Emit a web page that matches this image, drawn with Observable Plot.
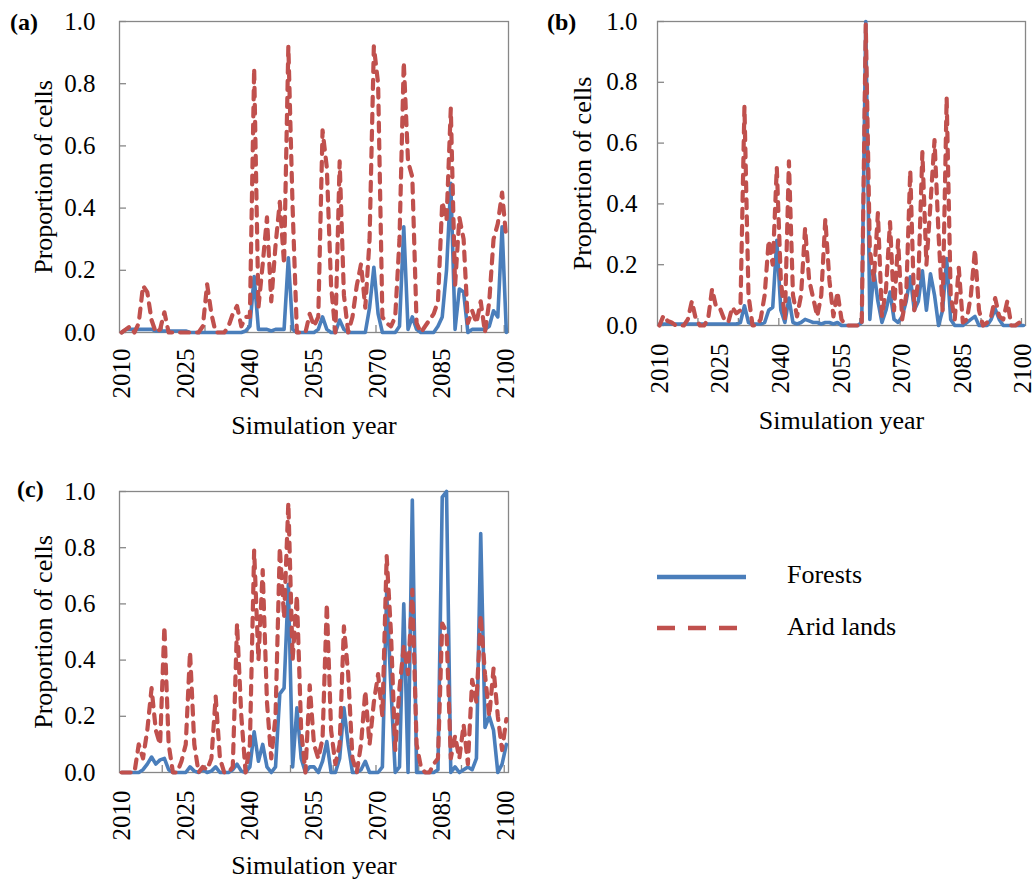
<!DOCTYPE html>
<html>
<head>
<meta charset="utf-8">
<script src="https://cdn.jsdelivr.net/npm/d3@7"></script>
<script src="https://cdn.jsdelivr.net/npm/@observablehq/plot@0.6"></script>
<style>
  html, body { margin: 0; padding: 0; background: #fff; }
  #root { position: relative; width: 1033px; height: 879px; overflow: hidden; background: #fff; }
  #root svg { position: absolute; }
</style>
</head>
<body>
<div id="root"></div>
<script>
// ---------- data ----------
const firstYear = 2010;
const lastYear = 2100;
const years = d3.range(firstYear, lastYear + 1);
const xTickLabels = [2010, 2025, 2040, 2055, 2070, 2085, 2100];
const xMinorTicks = [2019.5, 2029.5, 2039.5, 2049.5, 2059.5, 2069.5, 2079.5, 2089.5, 2099.5];
const yTicks = [0, 0.2, 0.4, 0.6, 0.8, 1.0];
const seriesNames = ["Forests", "Arid lands"];
const panelLabels = ["(a)", "(b)", "(c)"];
const xTitle = "Simulation year";
const yTitle = "Proportion of cells";

const forestsA = [
  0, 0.01, 0.01, 0.01, 0.01, 0.01, 0.01, 0.01, 0.005, 0.005,
  0.005, 0.005, 0.005, 0.005, 0.005, 0.005, 0, 0, 0, 0,
  0, 0, 0, 0, 0, 0, 0, 0, 0, 0.005,
  0.02, 0.18, 0.01, 0.01, 0.01, 0.005, 0.01, 0.01, 0.01, 0.24,
  0.01, 0, 0, 0, 0, 0, 0.01, 0.05, 0.01, 0,
  0, 0.04, 0.01, 0, 0, 0, 0, 0, 0.08, 0.21,
  0.06, 0, 0, 0, 0, 0.02, 0.34, 0.01, 0.05, 0.01,
  0, 0, 0, 0, 0.02, 0.05, 0.2, 0.48, 0.01, 0.14,
  0.13, 0, 0.01, 0.01, 0.01, 0.01, 0.02, 0.07, 0.05, 0.34,
  0
];
const aridA = [
  0, 0.01, 0.02, 0, 0.03, 0.15, 0.13, 0.04, 0, 0.01,
  0.065, 0, 0, 0, 0, 0, 0, 0, 0, 0.02,
  0.155, 0.06, 0, 0, 0, 0.02, 0.06, 0.085, 0.02, 0.05,
  0.05, 0.85, 0.08, 0.22, 0.37, 0.1, 0.28, 0.42, 0.22, 0.92,
  0.4, 0, 0, 0, 0.06, 0.02, 0.05, 0.65, 0.53, 0.15,
  0, 0.55, 0.12, 0, 0.05, 0.15, 0.22, 0.08, 0.3, 0.92,
  0.8, 0.05, 0.03, 0.02, 0.05, 0.3, 0.87, 0.55, 0.5, 0.03,
  0, 0.02, 0.04, 0.06, 0.1, 0.42, 0.36, 0.72, 0.15, 0.37,
  0.3, 0.03, 0.07, 0.03, 0.1, 0, 0.1, 0.3, 0.35, 0.45,
  0.3
];

const forestsB = [
  0.005, 0.005, 0.005, 0.005, 0.005, 0.005, 0.005, 0.005, 0.005, 0.005,
  0.005, 0.005, 0.005, 0.005, 0.005, 0.005, 0.005, 0.005, 0.005, 0.005,
  0.01, 0.065, 0.01, 0.005, 0.005, 0.005, 0.01, 0.05, 0.06, 0.28,
  0.05, 0.01, 0.09, 0.01, 0.005, 0.01, 0.02, 0.015, 0.01, 0.01,
  0.005, 0.01, 0.01, 0.005, 0.01, 0, 0, 0, 0, 0,
  0.01, 1.0, 0.02, 0.18, 0.08, 0.01, 0.05, 0.11, 0.02, 0.01,
  0.03, 0.08, 0.16, 0.05, 0.08, 0.18, 0.05, 0.17, 0.1, 0,
  0.05, 0.22, 0.02, 0, 0, 0, 0.01, 0.02, 0.03, 0,
  0, 0, 0.02, 0.055, 0.02, 0, 0, 0, 0, 0,
  0
];
const aridB = [
  0, 0.033, 0.015, 0.01, 0, 0, 0, 0.02, 0.08, 0.02,
  0, 0, 0.02, 0.12, 0.06, 0.055, 0.02, 0.01, 0.06, 0.04,
  0.05, 0.72, 0.1, 0, 0, 0.02, 0.1, 0.28, 0.2, 0.52,
  0.15, 0.02, 0.54, 0.1, 0.03, 0.1, 0.32, 0.15, 0.09, 0.03,
  0.1, 0.35, 0.15, 0.03, 0.11, 0.02, 0, 0, 0, 0,
  0, 0.99, 0.25, 0.15, 0.37, 0.03, 0.12, 0.34, 0.05, 0.28,
  0.02, 0.1, 0.51, 0.05, 0.15, 0.57, 0.2, 0.4, 0.61, 0.3,
  0.05, 0.75, 0.1, 0.02, 0.19, 0.01, 0.02, 0.1, 0.25, 0.05,
  0, 0.01, 0.03, 0.09, 0.03, 0.02, 0.08, 0, 0, 0.01,
  0.02
];

const forestsC = [
  0, 0, 0, 0, 0, 0.01, 0.03, 0.055, 0.03, 0.045,
  0.05, 0.01, 0, 0, 0, 0, 0.02, 0.005, 0, 0.01,
  0, 0.005, 0.02, 0, 0, 0, 0.01, 0.03, 0.005, 0,
  0.02, 0.145, 0.04, 0.1, 0.02, 0, 0.02, 0.28, 0.3, 0.67,
  0.02, 0.23, 0.05, 0, 0.02, 0.02, 0, 0.04, 0.11, 0,
  0, 0.05, 0.23, 0.1, 0, 0, 0.01, 0.04, 0, 0,
  0, 0.02, 0.64, 0.3, 0, 0.02, 0.6, 0, 0.97, 0,
  0, 0, 0, 0, 0.01, 0.98, 1.0, 0, 0.02, 0,
  0.01, 0.02, 0.01, 0.05, 0.85, 0.16, 0.2, 0.15, 0, 0.03,
  0.1
];
const aridC = [
  0, 0, 0, 0, 0.1, 0.05, 0.15, 0.3, 0.15, 0.1,
  0.52, 0.1, 0, 0, 0.04, 0.1, 0.43, 0.1, 0, 0.02,
  0.01, 0.05, 0.27, 0.05, 0, 0, 0.02, 0.53, 0.2, 0,
  0.1, 0.79, 0.4, 0.72, 0.25, 0.05, 0.2, 0.8, 0.55, 0.96,
  0.4, 0.63, 0.15, 0, 0.31, 0.1, 0.05, 0.12, 0.6, 0.15,
  0.03, 0.1, 0.52, 0.35, 0.05, 0, 0.1, 0.29, 0.1, 0.25,
  0.35, 0.2, 0.77, 0.5, 0.08, 0.3, 0.45, 0.35, 0.65, 0.1,
  0.02, 0, 0, 0.03, 0.05, 0.53, 0.5, 0.05, 0.13, 0.05,
  0.17, 0.03, 0.33, 0.25, 0.56, 0.35, 0.2, 0.37, 0.2, 0.08,
  0.19
];

// ---------- styles ----------
const FONT = "'Liberation Serif', 'Times New Roman', serif";
const BLUE = "#4a7ebb";
const RED = "#c0504d";
const FRAME = "#878787";
const DASH = "9,8";

const root = document.getElementById("root");

function panel(cfg) {
  const data = years.map((year, i) => ({year, forests: cfg.forests[i], arid: cfg.arid[i]}));
  const plotW = cfg.width - cfg.marginLeft - cfg.marginRight;
  const plotH = cfg.height - cfg.marginTop - cfg.marginBottom;
  const svg = Plot.plot({
    width: cfg.width,
    height: cfg.height,
    marginLeft: cfg.marginLeft,
    marginRight: cfg.marginRight,
    marginTop: cfg.marginTop,
    marginBottom: cfg.marginBottom,
    style: {fontFamily: FONT, fontSize: "25px", background: "transparent", color: "#000", overflow: "visible"},
    x: {domain: [firstYear - 0.5, lastYear + 0.5]},
    y: {domain: [0, 1]},
    marks: [
      Plot.frame({stroke: FRAME, strokeWidth: 1.3}),
      Plot.ruleY(yTicks, {stroke: FRAME, strokeWidth: 1.3, insetRight: plotW - 7}),
      Plot.ruleX(xMinorTicks, {stroke: FRAME, strokeWidth: 1.3, insetTop: plotH - 7}),
      Plot.axisY({ticks: yTicks, tickFormat: d3.format(".1f"), tickSize: 0, tickPadding: cfg.yPad, fontSize: 25, label: null}),
      Plot.axisY({ticks: [], tickSize: 0, label: yTitle, labelAnchor: "center", labelOffset: cfg.yLabelOffset, labelArrow: "none", fontSize: 26}),
      Plot.axisX({ticks: xTickLabels, tickFormat: d => String(d), tickRotate: -90, tickSize: 0, tickPadding: cfg.xPad, fontSize: 25, label: null}),
      Plot.axisX({ticks: [], tickSize: 0, label: xTitle, labelAnchor: "center", labelOffset: cfg.xLabelOffset, labelArrow: "none", fontSize: 26}),
      Plot.lineY(data, {x: "year", y: "forests", stroke: BLUE, strokeWidth: 3.6, strokeLinejoin: "round", strokeLinecap: "round"}),
      Plot.lineY(data, {x: "year", y: "arid", stroke: RED, strokeWidth: 4.2, strokeDasharray: DASH, strokeLinejoin: "round", strokeLinecap: "round"})
    ]
  });
  svg.style.left = cfg.left + "px";
  svg.style.top = cfg.top + "px";
  root.appendChild(svg);
}

panel({forests: forestsA, arid: aridA, left: 0, top: 0, width: 530, height: 440,
  marginLeft: 119, marginRight: 22, marginTop: 21, marginBottom: 108,
  yPad: 24, xPad: 16, yLabelOffset: 86, xLabelOffset: 101});
panel({forests: forestsB, arid: aridB, left: 540, top: 0, width: 493, height: 440,
  marginLeft: 117, marginRight: 8, marginTop: 21, marginBottom: 115,
  yPad: 20, xPad: 18, yLabelOffset: 85, xLabelOffset: 103});
panel({forests: forestsC, arid: aridC, left: 0, top: 470, width: 530, height: 409,
  marginLeft: 119, marginRight: 22, marginTop: 21, marginBottom: 107,
  yPad: 24, xPad: 18, yLabelOffset: 86, xLabelOffset: 101});

// ---------- panel letters & legend ----------
const ov = d3.create("svg")
  .attr("width", 1033).attr("height", 879)
  .style("left", "0px").style("top", "0px")
  .style("font-family", FONT);
const letterPos = [[10, 29.5], [547, 29.5], [17, 497]];
panelLabels.forEach((t, i) => {
  ov.append("text").attr("x", letterPos[i][0]).attr("y", letterPos[i][1])
    .attr("font-size", 24).attr("font-weight", "bold").text(t);
});
const lg = ov.append("g");
lg.append("line").attr("x1", 657).attr("x2", 746).attr("y1", 577).attr("y2", 577)
  .attr("stroke", BLUE).attr("stroke-width", 4.5);
lg.append("line").attr("x1", 657).attr("x2", 737).attr("y1", 628).attr("y2", 628)
  .attr("stroke", RED).attr("stroke-width", 4.5).attr("stroke-dasharray", "18,13");
lg.append("text").attr("x", 787).attr("y", 583).attr("font-size", 26).text(seriesNames[0]);
lg.append("text").attr("x", 787).attr("y", 635).attr("font-size", 26).text(seriesNames[1]);
root.appendChild(ov.node());
</script>
</body>
</html>
